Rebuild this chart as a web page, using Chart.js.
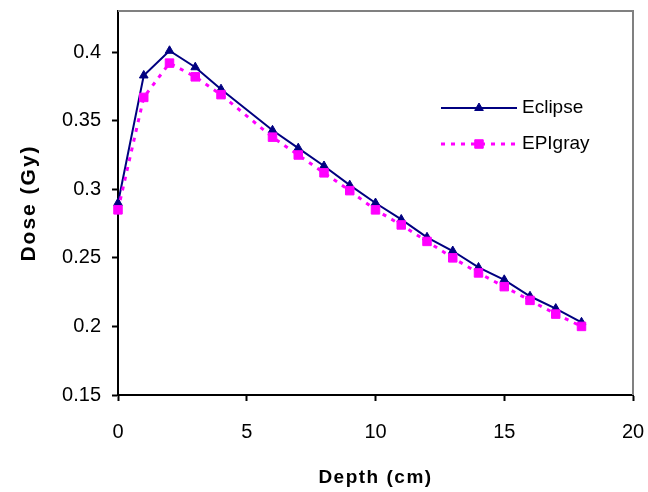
<!DOCTYPE html>
<html>
<head>
<meta charset="utf-8">
<title>Dose vs depth</title>
<script src="https://cdn.jsdelivr.net/npm/chart.js@4.4.1/dist/chart.umd.min.js"></script>
<style>
  html, body { margin: 0; padding: 0; background: #fff; }
  #doseChart { display: block; }
</style>
</head>
<body>
<canvas id="doseChart" width="648" height="492"></canvas>
<script>
// depth in cm (no point at 5)
const depths = [0, 1, 2, 3, 4, 6, 7, 8, 9, 10, 11, 12, 13, 14, 15, 16, 17, 18];
const eclipseDose = [0.290, 0.383, 0.401, 0.389, 0.373, 0.343, 0.330, 0.317, 0.303,
  0.290, 0.278, 0.265, 0.255, 0.243, 0.234, 0.222, 0.213, 0.203];
const epigrayDose = [0.285, 0.367, 0.392, 0.382, 0.369, 0.338, 0.325, 0.312, 0.299,
  0.285, 0.274, 0.262, 0.250, 0.239, 0.229, 0.219, 0.209, 0.200];

const seriesNames = ['Eclipse', 'EPIgray'];
const xTicks = [0, 5, 10, 15, 20];
const yTicks = [0.15, 0.2, 0.25, 0.3, 0.35, 0.4];
const yTickLabels = ['0.15', '0.2', '0.25', '0.3', '0.35', '0.4'];

const FONT = '"Liberation Sans", Arial, sans-serif';
const NAVY = '#000080';
const MAGENTA = '#ff00ff';

const toPoints = vals => depths.map((d, i) => ({ x: d, y: vals[i] }));

// axis titles in the original are letter-spaced
function spacedTitle(scale, spacing) {
  if (scale._spaced) return;
  const orig = scale.drawTitle;
  scale.drawTitle = function () {
    this.ctx.save();
    this.ctx.letterSpacing = spacing;
    orig.call(this);
    this.ctx.restore();
  };
  scale._spaced = true;
}

// grey frame on top/right + legend inside the plot
const framePlugin = {
  id: 'frameAndLegend',
  afterDraw(chart) {
    const { ctx, chartArea: a } = chart;
    ctx.save();
    ctx.strokeStyle = '#808080';
    ctx.lineWidth = 2;
    ctx.beginPath();
    ctx.moveTo(a.left, a.top);
    ctx.lineTo(a.right, a.top);
    ctx.lineTo(a.right, a.bottom);
    ctx.stroke();

    const rows = [108, 144];
    chart.data.datasets.forEach((ds, i) => {
      const y = rows[i];
      ctx.strokeStyle = ds.borderColor;
      ctx.lineWidth = ds.borderWidth;
      ctx.setLineDash(ds.borderDash || []);
      ctx.beginPath();
      ctx.moveTo(441, y);
      ctx.lineTo(517, y);
      ctx.stroke();
      ctx.setLineDash([]);
      ctx.fillStyle = ds.backgroundColor;
      ctx.strokeStyle = ds.borderColor;
      ctx.lineWidth = 1;
      Chart.helpers.drawPoint(ctx, {
        pointStyle: ds.pointStyle,
        radius: ds.pointRadius,
        borderWidth: 1
      }, 479, y);
      ctx.fillStyle = '#000';
      ctx.font = '19px ' + FONT;
      ctx.textAlign = 'left';
      ctx.textBaseline = 'middle';
      ctx.fillText(ds.label, 522, y);
    });
    ctx.restore();
  }
};

new Chart(document.getElementById('doseChart'), {
  type: 'line',
  data: {
    datasets: [
      {
        label: seriesNames[0],
        data: toPoints(eclipseDose),
        borderColor: NAVY,
        backgroundColor: NAVY,
        borderWidth: 2,
        pointStyle: 'triangle',
        pointRadius: 5,
        pointBorderWidth: 1,
        tension: 0,
        clip: false,
        order: 1
      },
      {
        label: seriesNames[1],
        data: toPoints(epigrayDose),
        borderColor: MAGENTA,
        backgroundColor: MAGENTA,
        borderWidth: 3,
        borderDash: [4, 6],
        pointStyle: 'rect',
        pointRadius: 6,
        pointBorderWidth: 1,
        tension: 0,
        clip: false,
        order: 0
      }
    ]
  },
  options: {
    responsive: false,
    animation: false,
    layout: { padding: { top: 11, right: 15, left: 0, bottom: 0 } },
    plugins: {
      legend: { display: false },
      tooltip: { enabled: false }
    },
    scales: {
      x: {
        type: 'linear',
        min: 0,
        max: 20,
        afterFit: s => {
          s.height = 97; s.paddingLeft = 0; s.paddingRight = 0;
          spacedTitle(s, '1.5px');
        },
        afterBuildTicks: s => { s.ticks = xTicks.map(v => ({ value: v })); },
        border: { color: '#000', width: 2 },
        grid: { drawOnChartArea: false, drawTicks: true, tickLength: 6, tickWidth: 2, tickColor: '#000' },
        ticks: { color: '#000', padding: 19, font: { family: FONT, size: 20 } },
        title: {
          display: true,
          text: 'Depth (cm)',
          color: '#000',
          padding: { top: 0, bottom: 3 },
          font: { family: FONT, size: 19, weight: 'bold' }
        }
      },
      y: {
        type: 'linear',
        min: 0.15,
        max: 0.43,
        afterFit: s => {
          s.width = 118; s.paddingTop = 0; s.paddingBottom = 0;
          spacedTitle(s, '2px');
        },
        afterBuildTicks: s => { s.ticks = yTicks.map(v => ({ value: v })); },
        border: { color: '#000', width: 2 },
        grid: { drawOnChartArea: false, drawTicks: true, tickLength: 6, tickWidth: 2, tickColor: '#000' },
        ticks: {
          color: '#000',
          padding: 11,
          font: { family: FONT, size: 20 },
          callback: v => yTickLabels[yTicks.indexOf(v)]
        },
        title: {
          display: true,
          text: 'Dose (Gy)',
          color: '#000',
          padding: { top: 17, bottom: 0 },
          font: { family: FONT, size: 21, weight: 'bold' }
        }
      }
    }
  },
  plugins: [framePlugin]
});
</script>
</body>
</html>
